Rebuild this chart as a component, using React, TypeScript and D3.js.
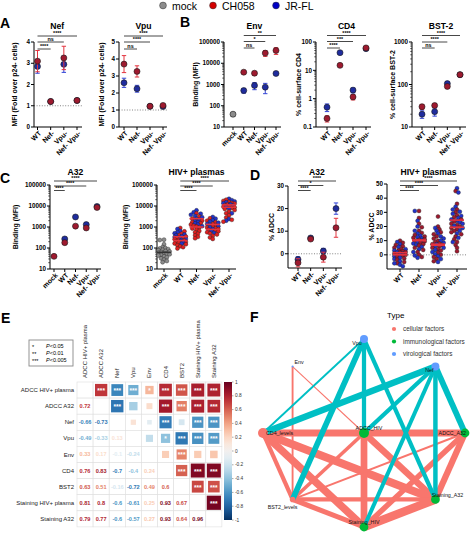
import React from "react";
import * as d3 from "d3";

const FONT = "'Liberation Sans', Arial, Helvetica, sans-serif";
const RED_PT = "#9e1a2f";
const BLUE_PT = "#1f2c9e";
const GRAY_PT = "#8c8c8c";
const RED_BAR = "#e3343f";
const BLUE_BAR = "#3344d6";

// ---------- legend ----------
const legendLabels = ["mock", "CH058", "JR-FL"];

// ---------- categories ----------
const catsA = ["WT", "Nef-", "Vpu-", "Nef- Vpu-"];
const catsMock = ["mock", "WT", "Nef-", "Vpu-", "Nef- Vpu-"];

// ---------- Panel A ----------
const nefCH058 = [3.1, 1.2, 3.25, 1.25];
const nefCH058Sd = [0.5, 0.04, 0.55, 0.05];
const nefJRFL = [2.85, 1.2, 2.95, 1.25];
const nefJRFLSd = [0.32, 0.04, 0.38, 0.05];
const vpuCH058 = [3.7, 3.27, 1.22, 1.27];
const vpuCH058Sd = [0.5, 0.33, 0.04, 0.07];
const vpuJRFL = [2.6, 2.25, 1.22, 1.2];
const vpuJRFLSd = [0.27, 0.2, 0.04, 0.05];

// ---------- Panel B ----------
const envMock = [40];
const envMockSd = [9];
const envCH058 = [3800, 3400, 30000, 40000];
const envCH058Sd = [500, 700, 9000, 14000];
const envJRFL = [520, 900, 750, 3300];
const envJRFLSd = [130, 330, 380, 500];
const cd4CH058 = [0.2, 15, 1.15, 62];
const cd4CH058Sd = [0.05, 1, 0.25, 8];
const cd4JRFL = [0.5, 42, 2.0, 58];
const cd4JRFLSd = [0.15, 3, 0.4, 6];
const bstCH058 = [30, 32, 90, 170];
const bstCH058Sd = [4, 3, 8, 15];
const bstJRFL = [20, 23, 105, 170];
const bstJRFLSd = [4, 5, 10, 15];

// ---------- Panel C ----------
const a32BindCH058 = [40, 180, 1100, 900, 8500];
const a32BindCH058Sd = [3, 25, 100, 100, 800];
const a32BindJRFL = [NaN, 270, 3000, 1300, 9500];
const a32BindJRFLSd = [0, 40, 300, 200, 900];

const plasmaMock = [250, 240, 150, 110, 100, 95, 88, 82, 78, 72, 68, 64, 60, 57, 54, 50, 47, 44, 40, 36, 32, 28, 24, 21];
const plasmaWT_CH = [900, 620, 480, 400, 350, 310, 280, 260, 240, 225, 210, 195, 180, 165, 150, 135, 120, 110, 95];
const plasmaWT_JR = [800, 650, 560, 500, 440, 400, 360, 330, 300, 270, 240, 210, 185, 160];
const plasmaNef_CH = [4500, 3200, 2500, 2000, 1700, 1500, 1300, 1150, 1050, 950, 850, 750, 650, 560, 480, 400, 340, 290];
const plasmaNef_JR = [6200, 5000, 4300, 3800, 3300, 2900, 2500, 2200, 1900, 1700, 1500, 1300, 1100];
const plasmaVpu_CH = [2600, 2000, 1700, 1400, 1200, 1050, 950, 880, 800, 740, 680, 620, 560, 500, 440, 380, 320, 270];
const plasmaVpu_JR = [3000, 2500, 2100, 1800, 1600, 1400, 1250, 1100, 950, 800, 650, 520];
const plasmaNV_CH = [20000, 17500, 15500, 14000, 13000, 12000, 11000, 10000, 9300, 8700, 8000, 7200, 6400, 5400, 4500, 3600, 2800, 2200, 1800];
const plasmaNV_JR = [22000, 19000, 16500, 15000, 13500, 12000, 10500, 9000, 7500, 4500, 2400, 2000];

// ---------- Panel D ----------
const adccA32CH058 = [-4, 6.5, -1.5, 11.5];
const adccA32CH058Sd = [1.8, 0.6, 2.2, 4.2];
const adccA32JRFL = [-2.5, 7.0, 1.2, 20];
const adccA32JRFLSd = [1.2, 0.5, 1.2, 2.5];

const adccWT_CH = [10, 8.5, 7, 6, 5, 4, 3, 2.5, 2, 1.5, 1, 0.5, 0, -0.5, -1.5, -2.5, -3.5, -5, -6];
const adccWT_JR = [9, 7.5, 5.5, 4, 3, 2, 1, 0, -1, -2, -3, -4.5, -6, -7, -8];
const adccNef_CH = [31, 26, 22, 19.5, 17, 15.5, 14, 13, 12, 11, 10.5, 10, 9.5, 8.5, 7.5, 6.5, 5, 3.5, 2, 0, -1.5];
const adccNef_JR = [31, 24, 20, 17, 15, 13.5, 12.5, 11.5, 10, 9, 8, 7, 5.5, 4, 2, -0.5, -2];
const adccVpu_CH = [27, 20, 18, 16, 14.5, 13, 11.5, 10, 9, 8, 7.5, 7, 6, 5, 4, 3, 1.5, 0, -1.5, -3, -4.5];
const adccVpu_JR = [19, 17, 15, 13, 11.5, 10, 8.5, 7.5, 6, 5, 3.5, 2, 0.5, -1, -3, -5];
const adccNV_CH = [45, 36, 32, 30, 28, 26.5, 25, 23.5, 22, 21, 20, 19, 18, 17, 16, 14.5, 13, 11, 9, 7, 5, 2.5];
const adccNV_JR = [47, 44, 34, 32, 30.5, 29, 27.5, 26, 25, 24, 23, 22, 20.5, 19, 17, 15, 12, 9];

// ---------- Panel E ----------
const corrVars = ["ADCC HIV+ plasma", "ADCC A32", "Nef", "Vpu", "Env", "CD4", "BST2", "Staining HIV+ plasma", "Staining A32"];
const corrLower = [
  [],
  [0.72],
  [-0.66, -0.73],
  [-0.49, -0.33, 0.13],
  [0.33, 0.17, -0.1, -0.24],
  [0.76, 0.83, -0.7, -0.4, 0.24],
  [0.63, 0.51, -0.16, -0.72, 0.49, 0.6],
  [0.81, 0.8, -0.6, -0.61, 0.25, 0.93, 0.67],
  [0.79, 0.77, -0.6, -0.57, 0.27, 0.93, 0.64, 0.96],
];
const corrStars = [
  [],
  [3],
  [3, 3],
  [3, 0, 0],
  [1, 0, 0, 0],
  [3, 3, 3, 1, 0],
  [3, 3, 0, 3, 3, 3],
  [3, 3, 3, 3, 0, 3, 3],
  [3, 3, 3, 3, 0, 3, 3, 3],
];
const pLegend = [["*", "P<0.05"], ["**", "P<0.01"], ["***", "P<0.005"]];
const colorbarTicks = [1, 0.8, 0.6, 0.4, 0.2, 0, -0.2, -0.4, -0.6, -0.8, -1];

// ---------- Panel F ----------
const netTypes = ["cellular factors", "immunological factors", "virological factors"];
const netRing = ["ADCC_A32", "Nef", "Vpu", "Env", "CD4_levels", "BST2_levels", "Staining_HIV", "Staining_A32"];
const netCenter = "ADCC_HIV";
const netNodeType: Record<string, number> = {
  ADCC_A32: 1, Nef: 2, Vpu: 2, Env: 2, CD4_levels: 0, BST2_levels: 0, Staining_HIV: 1, Staining_A32: 1, ADCC_HIV: 1,
};
const netNodeValue: Record<string, number> = {
  ADCC_A32: 4.4, Nef: 4, Vpu: 4, Env: 1, CD4_levels: 5, BST2_levels: 2.8, Staining_HIV: 4.4, Staining_A32: 4.4, ADCC_HIV: 5,
};
const netEdges: [string, string, number][] = [
  ["CD4_levels", "ADCC_HIV", 0.76], ["CD4_levels", "ADCC_A32", 0.83], ["CD4_levels", "Staining_HIV", 0.88],
  ["CD4_levels", "Staining_A32", 0.93], ["CD4_levels", "BST2_levels", 0.6],
  ["ADCC_HIV", "ADCC_A32", 0.72], ["ADCC_HIV", "Staining_HIV", 0.81], ["ADCC_HIV", "Staining_A32", 0.79],
  ["ADCC_HIV", "BST2_levels", 0.55], ["ADCC_A32", "Staining_HIV", 0.7], ["ADCC_A32", "Staining_A32", 0.77],
  ["ADCC_A32", "BST2_levels", 0.4], ["Staining_HIV", "Staining_A32", 0.96], ["BST2_levels", "Staining_HIV", 0.67],
  ["BST2_levels", "Staining_A32", 0.6], ["Env", "BST2_levels", 0.4], ["Env", "ADCC_HIV", 0.33],
  ["Vpu", "CD4_levels", -0.4], ["Vpu", "ADCC_HIV", -0.6], ["Vpu", "BST2_levels", -0.72],
  ["Vpu", "Staining_A32", -0.6], ["Nef", "CD4_levels", -0.8], ["Nef", "ADCC_HIV", -0.6], ["Nef", "ADCC_A32", -0.73],
  ["Nef", "Staining_HIV", -0.58], ["Nef", "Staining_A32", -0.62],
];

// ================= helpers =================
type Cfg = {
  x0: number; x1: number; yTop: number; yBot: number;
  log: boolean; domain: [number, number]; ticks: number[];
  cats: string[]; c0: number; c1: number;
  title: string; titleY: number; ylabel: string; ylabelX: number;
  sig: string[][]; sigY: number[]; ref?: number;
};

function scales(c: Cfg) {
  const x = d3.scalePoint<string>().domain(c.cats).range([c.c0, c.c1]);
  const y: any = c.log
    ? d3.scaleLog().domain(c.domain).range([c.yBot, c.yTop])
    : d3.scaleLinear().domain(c.domain).range([c.yBot, c.yTop]);
  return { x, y };
}

function Frame({ c }: { c: Cfg }) {
  const { x, y } = scales(c);
  const minor: number[] = [];
  if (c.log) {
    for (let d = c.domain[0]; d < c.domain[1] * 0.999; d *= 10) {
      for (let k = 2; k <= 9; k++) minor.push(+(d * k).toPrecision(3));
    }
  }
  const midY = (c.yTop + c.yBot) / 2;
  return (
    <g>
      {c.ref !== undefined && (
        <line x1={c.x0} x2={c.x1} y1={y(c.ref)} y2={y(c.ref)} stroke="#666" strokeWidth={0.8} strokeDasharray="1,1.6" />
      )}
      <line x1={c.x0} x2={c.x0} y1={c.yTop} y2={c.yBot} stroke="#000" strokeWidth={1} />
      {c.ticks.map((t) => (
        <g key={t}>
          <line x1={c.x0 - 3} x2={c.x0} y1={y(t)} y2={y(t)} stroke="#000" strokeWidth={1} />
          <text x={c.x0 - 4} y={y(t)} dy="0.35em" textAnchor="end" fontSize={6.3} fontWeight="bold">{String(t)}</text>
        </g>
      ))}
      {minor.map((t, i) => (
        <line key={i} x1={c.x0 - 1.8} x2={c.x0} y1={y(t)} y2={y(t)} stroke="#000" strokeWidth={0.6} />
      ))}
      <line x1={c.x0} x2={c.x1} y1={c.yBot} y2={c.yBot} stroke="#000" strokeWidth={1} />
      {c.cats.map((k) => (
        <g key={k}>
          <line x1={x(k)} x2={x(k)} y1={c.yBot} y2={c.yBot + 3} stroke="#000" strokeWidth={1} />
          <text transform={`translate(${(x(k) as number) + 2.5},${c.yBot + 5}) rotate(-45)`} dy="0.35em" textAnchor="end" fontSize={7} fontWeight="bold">{k}</text>
        </g>
      ))}
      <text x={(c.c0 + c.c1) / 2} y={c.titleY} textAnchor="middle" fontSize={8.6} fontWeight="bold">{c.title}</text>
      <text transform={`translate(${c.ylabelX},${midY}) rotate(-90)`} textAnchor="middle" dy="0.35em" fontSize={7} fontWeight="bold">{c.ylabel}</text>
      {c.sig.map((s, i) => {
        const a = x(s[0]) as number;
        const b = x(s[1]) as number;
        return (
          <g key={i}>
            <line x1={a} x2={b} y1={c.sigY[i]} y2={c.sigY[i]} stroke="#333" strokeWidth={0.9} />
            <text x={(a + b) / 2} y={c.sigY[i] - 0.6} textAnchor="middle" fontSize={5.4} fontWeight="bold">{s[2]}</text>
          </g>
        );
      })}
    </g>
  );
}

function ErrSeries({ c, vals, sds, fill, bar, cats }: { c: Cfg; vals: number[]; sds: number[]; fill: string; bar: string; cats: string[] }) {
  const { x, y } = scales(c);
  const lo = c.domain[0];
  return (
    <g>
      {vals.map((v, i) => {
        if (!isFinite(v)) return null;
        const cx = x(cats[i]) as number;
        const y1 = y(Math.max(v - sds[i], lo * 1.0001));
        const y2 = y(v + sds[i]);
        return (
          <g key={i}>
            <line x1={cx} x2={cx} y1={y1} y2={y2} stroke={bar} strokeWidth={1} />
            <line x1={cx - 2.2} x2={cx + 2.2} y1={y1} y2={y1} stroke={bar} strokeWidth={1} />
            <line x1={cx - 2.2} x2={cx + 2.2} y1={y2} y2={y2} stroke={bar} strokeWidth={1} />
            <circle cx={cx} cy={y(v)} r={3} fill={fill} stroke="#1a1a1a" strokeWidth={0.6} />
          </g>
        );
      })}
    </g>
  );
}

function swarmLayout(pts: { y: number; col: string }[], cx: number) {
  const step = 1.4, maxW = 6.5, minD = 2.9;
  const sorted = pts.slice().sort((a, b) => a.y - b.y);
  const placed: { x: number; y: number; col: string }[] = [];
  for (const p of sorted) {
    let best = 0, bestScore = -Infinity;
    const kMax = Math.floor(maxW / step) * 2;
    for (let k = 0; k <= kMax; k++) {
      const off = (k % 2 === 0 ? 1 : -1) * Math.ceil(k / 2) * step;
      let md = Infinity;
      for (const q of placed) {
        const d = Math.hypot(q.x - (cx + off), q.y - p.y);
        if (d < md) md = d;
      }
      if (md >= minD) { best = off; break; }
      if (md > bestScore) { bestScore = md; best = off; }
    }
    placed.push({ x: cx + best, y: p.y, col: p.col });
  }
  return placed;
}

function Swarm({ c, groups }: { c: Cfg; groups: { cat: string; series: { vals: number[]; fill: string; med: string }[] }[] }) {
  const { x, y } = scales(c);
  return (
    <g>
      {groups.map((g, gi) => {
        const cx = x(g.cat) as number;
        const pts: { y: number; col: string }[] = [];
        g.series.forEach((s) => s.vals.forEach((v) => pts.push({ y: y(v), col: s.fill })));
        const laid = swarmLayout(pts, cx);
        return (
          <g key={gi}>
            {laid.map((p, i) => (
              <circle key={i} cx={p.x} cy={p.y} r={2} fill={p.col} stroke="#222" strokeWidth={0.4} />
            ))}
            {g.series.map((s, si) => {
              const m = d3.median(s.vals) as number;
              return <line key={si} x1={cx - 7} x2={cx + 7} y1={y(m)} y2={y(m)} stroke={s.med} strokeWidth={1.6} />;
            })}
          </g>
        );
      })}
    </g>
  );
}

// ================= configs =================
const sigWT3 = (a: string, b: string, cc: string) => [["WT", "Nef- Vpu-", a], ["WT", "Vpu-", b], ["WT", "Nef-", cc]];

const cfgNef: Cfg = { x0: 34, x1: 82, yTop: 42, yBot: 127, log: false, domain: [0, 4], ticks: [0, 1, 2, 3, 4], cats: catsA, c0: 37.5, c1: 77, title: "Nef", titleY: 29, ylabel: "MFI (Fold over p24- cells)", ylabelX: 15, sig: sigWT3("****", "ns", "****"), sigY: [36, 42, 49], ref: 1 };
const cfgVpu: Cfg = { x0: 119, x1: 167, yTop: 42, yBot: 127, log: false, domain: [0, 5], ticks: [0, 1, 2, 3, 4, 5], cats: catsA, c0: 124, c1: 163, title: "Vpu", titleY: 29, ylabel: "MFI (Fold over p24- cells)", ylabelX: 102, sig: sigWT3("****", "****", "ns"), sigY: [36, 42, 49], ref: 1 };
const cfgEnv: Cfg = { x0: 224, x1: 281, yTop: 42, yBot: 127, log: true, domain: [10, 100000], ticks: [10, 100, 1000, 10000, 100000], cats: catsMock, c0: 233, c1: 276, title: "Env", titleY: 29, ylabel: "Binding (MFI)", ylabelX: 196, sig: sigWT3("**", "*", "ns"), sigY: [35.5, 41.5, 48] };
const cfgCD4: Cfg = { x0: 316, x1: 371, yTop: 42, yBot: 127, log: true, domain: [0.1, 100], ticks: [0.1, 1, 10, 100], cats: catsA, c0: 327, c1: 366, title: "CD4", titleY: 29, ylabel: "% cell-surface CD4", ylabelX: 299, sig: sigWT3("****", "***", "****"), sigY: [35.5, 41.5, 48] };
const cfgBST: Cfg = { x0: 412, x1: 466, yTop: 42, yBot: 127, log: true, domain: [10, 1000], ticks: [10, 100, 1000], cats: catsA, c0: 422, c1: 460, title: "BST-2", titleY: 29, ylabel: "% cell-surface BST-2", ylabelX: 393, sig: sigWT3("****", "****", "ns"), sigY: [35.5, 42, 48] };
const cfgCA32: Cfg = { x0: 50, x1: 101, yTop: 185, yBot: 269, log: true, domain: [10, 100000], ticks: [10, 100, 1000, 10000, 100000], cats: catsMock, c0: 54, c1: 97, title: "A32", titleY: 174.5, ylabel: "Binding (MFI)", ylabelX: 16, sig: [["mock", "Nef- Vpu-", "****"], ["mock", "Vpu-", "****"], ["mock", "WT", "****"]], sigY: [181, 186, 190.5] };
const cfgCHIV: Cfg = { x0: 157, x1: 236, yTop: 185, yBot: 269, log: true, domain: [10, 100000], ticks: [10, 100, 1000, 10000, 100000], cats: catsMock, c0: 164, c1: 229, title: "HIV+ plasmas", titleY: 174.5, ylabel: "Binding (MFI)", ylabelX: 126, sig: sigWT3("****", "****", "****"), sigY: [181, 186, 190.5] };
const cfgDA32: Cfg = { x0: 288, x1: 342, yTop: 186, yBot: 268, log: false, domain: [-6.3, 30], ticks: [0, 10, 20, 30], cats: catsA, c0: 298, c1: 336, title: "A32", titleY: 174.5, ylabel: "% ADCC", ylabelX: 272, sig: sigWT3("****", "*", "****"), sigY: [181, 185.5, 190.5], ref: 0 };
const cfgDHIV: Cfg = { x0: 387, x1: 467, yTop: 184, yBot: 269, log: false, domain: [-10, 50], ticks: [0, 10, 20, 30, 40, 50], cats: catsA, c0: 400, c1: 457, title: "HIV+ plasmas", titleY: 174.5, ylabel: "% ADCC", ylabelX: 372, sig: sigWT3("****", "****", "****"), sigY: [181, 185.5, 190.5], ref: 0 };

// ================= Panel E =================
function CorrPanel() {
  const gx0 = 77, gy0 = 382, cs = 16.1, n = corrVars.length;
  const col = (r: number) => d3.interpolateRdBu((1 - r) / 2);
  const rOf = (i: number, j: number) => (i > j ? corrLower[i][j] : corrLower[j][i]);
  const sOf = (i: number, j: number) => (i > j ? corrStars[i][j] : corrStars[j][i]);
  const cells: JSX.Element[] = [];
  for (let i = 0; i < n; i++) {
    for (let j = 0; j < n; j++) {
      const x = gx0 + j * cs, y = gy0 + i * cs;
      cells.push(<rect key={`g${i}-${j}`} x={x} y={y} width={cs} height={cs} fill="#fff" stroke="#dedede" strokeWidth={0.6} />);
    }
  }
  const marks: JSX.Element[] = [];
  for (let i = 0; i < n; i++) {
    for (let j = 0; j < n; j++) {
      if (i === j) continue;
      const r = rOf(i, j);
      const cx = gx0 + j * cs + cs / 2, cy = gy0 + i * cs + cs / 2;
      if (i > j) {
        marks.push(
          <text key={`t${i}-${j}`} x={cx} y={cy} dy="0.35em" textAnchor="middle" fontSize={5.6} fontWeight="bold" fill={col(r)}>{String(r)}</text>
        );
      } else {
        const side = (cs - 1.6) * Math.sqrt(Math.abs(r));
        marks.push(<rect key={`s${i}-${j}`} x={cx - side / 2} y={cy - side / 2} width={side} height={side} fill={col(r)} />);
        const st = sOf(i, j);
        if (st > 0)
          marks.push(
            <text key={`st${i}-${j}`} x={cx} y={cy + 3} textAnchor="middle" fontSize={6.5} fontWeight="bold" fill="#fff">{"*".repeat(st)}</text>
          );
      }
    }
  }
  const cbX = 224, cbW = 8, cbTop = 382, cbBot = 520;
  const cbY = d3.scaleLinear().domain([1, -1]).range([cbTop, cbBot]);
  const stops = d3.range(0, 21).map((k) => 1 - k / 10);
  return (
    <g>
      <text x={1} y={323} fontSize={14} fontWeight="bold">E</text>
      <rect x={29} y={340} width={44} height={26} fill="#fff" stroke="#888" strokeWidth={0.9} />
      {pLegend.map((p, i) => (
        <g key={i}>
          <text x={32} y={349 + i * 7.2} fontSize={5.5}>{p[0]}</text>
          <text x={46} y={348 + i * 7.2} fontSize={5.5}>
            <tspan fontStyle="italic">P</tspan>{p[1].slice(1)}
          </text>
        </g>
      ))}
      {corrVars.map((v, j) => (
        <text key={`c${j}`} transform={`translate(${gx0 + j * cs + cs / 2 + 2},${gy0 - 4}) rotate(-90)`} fontSize={6} fill="#222">{v}</text>
      ))}
      {corrVars.map((v, i) => (
        <text key={`r${i}`} x={gx0 - 3} y={gy0 + i * cs + cs / 2} dy="0.35em" textAnchor="end" fontSize={6} fill="#222">{v}</text>
      ))}
      {cells}
      {marks}
      <defs>
        <linearGradient id="cbgrad" x1="0" x2="0" y1="0" y2="1">
          {stops.map((s, k) => (
            <stop key={k} offset={`${(k / 20) * 100}%`} stopColor={col(s)} />
          ))}
        </linearGradient>
      </defs>
      <rect x={cbX} y={cbTop} width={cbW} height={cbBot - cbTop} fill="url(#cbgrad)" />
      {colorbarTicks.map((t) => (
        <g key={t}>
          <line x1={cbX + cbW} x2={cbX + cbW + 1.5} y1={cbY(t)} y2={cbY(t)} stroke="#555" strokeWidth={0.5} />
          <text x={cbX + cbW + 3} y={cbY(t)} dy="0.35em" fontSize={4.8} fill="#333">{String(t)}</text>
        </g>
      ))}
    </g>
  );
}

// ================= Panel F =================
function NetPanel() {
  const cx = 364, cy = 433, rx = 101, ry = 94;
  const ang = d3.scalePoint<string>().domain(netRing).range([0, (2 * Math.PI * 7) / 8]);
  const pos: Record<string, [number, number]> = {};
  netRing.forEach((nm) => {
    const a = ang(nm) as number;
    pos[nm] = [cx + rx * Math.cos(a), cy - ry * Math.sin(a)];
  });
  pos[netCenter] = [cx, cy];
  const typeCol = ["#F8766D", "#00BA38", "#619CFF"];
  const wScale = d3.scaleLinear().domain([0.3, 0.96]).range([0.7, 8.5]);
  const labelStyle: Record<string, { dx: number; dy: number; anchor: string }> = {
    ADCC_A32: { dx: 1, dy: 2, anchor: "end" },
    Nef: { dx: -6, dy: 5, anchor: "middle" },
    Vpu: { dx: -7, dy: 6, anchor: "middle" },
    Env: { dx: 2, dy: -3, anchor: "start" },
    CD4_levels: { dx: 3, dy: 2, anchor: "start" },
    BST2_levels: { dx: -10, dy: 10, anchor: "middle" },
    Staining_HIV: { dx: 0, dy: -3, anchor: "middle" },
    Staining_A32: { dx: 12, dy: -2, anchor: "middle" },
    ADCC_HIV: { dx: 5, dy: -3, anchor: "middle" },
  };
  const allNodes = [...netRing, netCenter];
  const edgesSorted = netEdges.slice().sort((a, b) => (a[2] > 0 ? 0 : 1) - (b[2] > 0 ? 0 : 1));
  return (
    <g>
      <text x={250} y={322} fontSize={14} fontWeight="bold">F</text>
      <text x={387} y={318} fontSize={8}>Type</text>
      {netTypes.map((t, i) => (
        <g key={t}>
          <circle cx={394} cy={329 + i * 12.5} r={2.1} fill={typeCol[i]} />
          <text x={403} y={329 + i * 12.5} dy="0.35em" fontSize={6.4} fill="#333">{t}</text>
        </g>
      ))}
      {edgesSorted.map((e, i) => {
        const a = pos[e[0]], b = pos[e[1]];
        return (
          <line key={i} x1={a[0]} y1={a[1]} x2={b[0]} y2={b[1]} stroke={e[2] > 0 ? "#F8766D" : "#00BFC4"} strokeWidth={wScale(Math.abs(e[2]))} strokeLinecap="butt" />
        );
      })}
      {allNodes.map((nm) => (
        <circle key={nm} cx={pos[nm][0]} cy={pos[nm][1]} r={netNodeValue[nm]} fill={typeCol[netNodeType[nm]]} />
      ))}
      {allNodes.map((nm) => {
        const s = labelStyle[nm];
        return (
          <text key={`l${nm}`} x={pos[nm][0] + s.dx} y={pos[nm][1] + s.dy} textAnchor={s.anchor as any} fontSize={5.3} fill="#111">{nm}</text>
        );
      })}
    </g>
  );
}

// ================= App =================
export default function App() {
  const legendCols = [GRAY_PT, "#d40000", "#0000c4"];
  const legendX = [163, 213, 276];
  const catsNoMock = catsMock.slice(1);
  return (
    <svg width={474} height={533} style={{ position: "absolute", left: 0, top: 0 }} fontFamily={FONT}>
      <rect width={474} height={533} fill="#fff" />
      {legendLabels.map((l, i) => (
        <g key={l}>
          <circle cx={legendX[i]} cy={5.5} r={3.4} fill={legendCols[i]} stroke="#333" strokeWidth={0.5} />
          <text x={legendX[i] + 9} y={9.5} fontSize={10.5}>{l}</text>
        </g>
      ))}

      <text x={0} y={28} fontSize={14} fontWeight="bold">A</text>
      <Frame c={cfgNef} />
      <ErrSeries c={cfgNef} vals={nefJRFL} sds={nefJRFLSd} fill={BLUE_PT} bar={BLUE_BAR} cats={catsA} />
      <ErrSeries c={cfgNef} vals={nefCH058} sds={nefCH058Sd} fill={RED_PT} bar={RED_BAR} cats={catsA} />
      <Frame c={cfgVpu} />
      <ErrSeries c={cfgVpu} vals={vpuJRFL} sds={vpuJRFLSd} fill={BLUE_PT} bar={BLUE_BAR} cats={catsA} />
      <ErrSeries c={cfgVpu} vals={vpuCH058} sds={vpuCH058Sd} fill={RED_PT} bar={RED_BAR} cats={catsA} />

      <text x={180} y={27} fontSize={14} fontWeight="bold">B</text>
      <Frame c={cfgEnv} />
      <ErrSeries c={cfgEnv} vals={envMock} sds={envMockSd} fill={GRAY_PT} bar="#666" cats={["mock"]} />
      <ErrSeries c={cfgEnv} vals={envJRFL} sds={envJRFLSd} fill={BLUE_PT} bar={BLUE_BAR} cats={catsNoMock} />
      <ErrSeries c={cfgEnv} vals={envCH058} sds={envCH058Sd} fill={RED_PT} bar={RED_BAR} cats={catsNoMock} />
      <Frame c={cfgCD4} />
      <ErrSeries c={cfgCD4} vals={cd4JRFL} sds={cd4JRFLSd} fill={BLUE_PT} bar={BLUE_BAR} cats={catsA} />
      <ErrSeries c={cfgCD4} vals={cd4CH058} sds={cd4CH058Sd} fill={RED_PT} bar={RED_BAR} cats={catsA} />
      <Frame c={cfgBST} />
      <ErrSeries c={cfgBST} vals={bstJRFL} sds={bstJRFLSd} fill={BLUE_PT} bar={BLUE_BAR} cats={catsA} />
      <ErrSeries c={cfgBST} vals={bstCH058} sds={bstCH058Sd} fill={RED_PT} bar={RED_BAR} cats={catsA} />

      <text x={0} y={183} fontSize={14} fontWeight="bold">C</text>
      <Frame c={cfgCA32} />
      <ErrSeries c={cfgCA32} vals={a32BindJRFL} sds={a32BindJRFLSd} fill={BLUE_PT} bar={BLUE_BAR} cats={catsMock} />
      <ErrSeries c={cfgCA32} vals={a32BindCH058} sds={a32BindCH058Sd} fill={RED_PT} bar={RED_BAR} cats={catsMock} />
      <Frame c={cfgCHIV} />
      <Swarm
        c={cfgCHIV}
        groups={[
          { cat: "mock", series: [{ vals: plasmaMock, fill: GRAY_PT, med: "#333" }] },
          { cat: "WT", series: [{ vals: plasmaWT_CH, fill: "#e02020", med: RED_BAR }, { vals: plasmaWT_JR, fill: "#2233cc", med: RED_BAR }] },
          { cat: "Nef-", series: [{ vals: plasmaNef_CH, fill: "#e02020", med: RED_BAR }, { vals: plasmaNef_JR, fill: "#2233cc", med: RED_BAR }] },
          { cat: "Vpu-", series: [{ vals: plasmaVpu_CH, fill: "#e02020", med: RED_BAR }, { vals: plasmaVpu_JR, fill: "#2233cc", med: RED_BAR }] },
          { cat: "Nef- Vpu-", series: [{ vals: plasmaNV_CH, fill: "#e02020", med: RED_BAR }, { vals: plasmaNV_JR, fill: "#2233cc", med: RED_BAR }] },
        ]}
      />

      <text x={250} y={180} fontSize={14} fontWeight="bold">D</text>
      <Frame c={cfgDA32} />
      <ErrSeries c={cfgDA32} vals={adccA32JRFL} sds={adccA32JRFLSd} fill={BLUE_PT} bar={BLUE_BAR} cats={catsA} />
      <ErrSeries c={cfgDA32} vals={adccA32CH058} sds={adccA32CH058Sd} fill={RED_PT} bar={RED_BAR} cats={catsA} />
      <Frame c={cfgDHIV} />
      <Swarm
        c={cfgDHIV}
        groups={[
          { cat: "WT", series: [{ vals: adccWT_CH, fill: RED_PT, med: RED_BAR }, { vals: adccWT_JR, fill: "#2233cc", med: RED_BAR }] },
          { cat: "Nef-", series: [{ vals: adccNef_CH, fill: RED_PT, med: RED_BAR }, { vals: adccNef_JR, fill: "#2233cc", med: RED_BAR }] },
          { cat: "Vpu-", series: [{ vals: adccVpu_CH, fill: RED_PT, med: RED_BAR }, { vals: adccVpu_JR, fill: "#2233cc", med: RED_BAR }] },
          { cat: "Nef- Vpu-", series: [{ vals: adccNV_CH, fill: RED_PT, med: RED_BAR }, { vals: adccNV_JR, fill: "#2233cc", med: RED_BAR }] },
        ]}
      />

      <CorrPanel />
      <NetPanel />
    </svg>
  );
}
